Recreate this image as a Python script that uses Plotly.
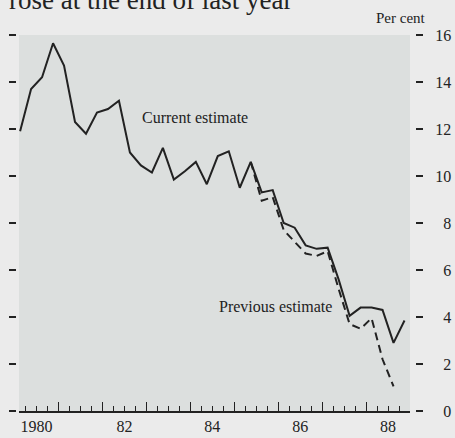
import plotly.graph_objects as go
import pandas as pd

# quarterly data, 1980 Q1 - 1988 Q4
quarters = pd.period_range("1980Q1", "1988Q4", freq="Q")
current = [11.9, 13.7, 14.2, 15.65, 14.7, 12.3, 11.8, 12.7, 12.85, 13.2,
           11.0, 10.45, 10.15, 11.2, 9.85, 10.2, 10.6, 9.65, 10.85, 11.05,
           9.5, 10.6, 9.3, 9.4, 8.0, 7.8, 7.05, 6.9, 6.95, 5.6,
           4.05, 4.4, 4.4, 4.3, 2.9, 3.85]

# previous estimate, 1985 Q2 - 1988 Q3
prev_quarters = pd.period_range("1985Q2", "1988Q3", freq="Q")
previous = [10.6, 8.95, 9.1, 7.7, 7.2, 6.7, 6.6, 6.8, 5.2, 3.7,
            3.5, 3.95, 2.2, 1.05]

year_labels = ["1980", "82", "84", "86", "88"]
label_years = [1980, 1982, 1984, 1986, 1988]
y_ticks = [0, 2, 4, 6, 8, 10, 12, 14, 16]


def to_dec(p):
    # centre of the quarter as a decimal year
    return p.year + (p.quarter - 0.5) / 4


x_cur = [to_dec(p) for p in quarters]
x_prev = [to_dec(p) for p in prev_quarters]

W, H = 455, 438
INK = "#222222"
FONT = "Liberation Serif"

fig = go.Figure()

fig.add_trace(go.Scatter(
    x=x_cur, y=current, mode="lines",
    line=dict(color=INK, width=2),
    xaxis="x", yaxis="y", hoverinfo="skip"
))
fig.add_trace(go.Scatter(
    x=x_prev, y=previous, mode="lines",
    line=dict(color=INK, width=2, dash="8px,5px"),
    xaxis="x2", yaxis="y2", hoverinfo="skip"
))

fig.add_annotation(x=1984.1, y=12.5, text="Current estimate", showarrow=False,
                   font=dict(family=FONT, size=16, color=INK))
fig.add_annotation(x=1985.93, y=4.45, text="Previous estimate", showarrow=False,
                   font=dict(family=FONT, size=16, color=INK))
fig.add_annotation(x=401 / W, y=1.045, xref="paper", yref="paper",
                   xanchor="center", yanchor="middle",
                   text="Per cent", showarrow=False,
                   font=dict(family=FONT, size=15, color=INK))
fig.add_annotation(x=7 / W, y=1.093, xref="paper", yref="paper",
                   xanchor="left", yanchor="middle",
                   text="rose at the end of last year", showarrow=False,
                   font=dict(family=FONT, size=27, color=INK))

x_range = [1980.1, 1989.0]
y_range = [0, 16]

fig.update_layout(
    width=W, height=H,
    margin=dict(l=0, r=0, t=35, b=27),
    paper_bgcolor="#ebebeb",
    plot_bgcolor="#dcdfde",
    showlegend=False,
    font=dict(family=FONT, size=16, color=INK),
    xaxis=dict(
        domain=[19 / W, 410 / W], range=x_range,
        showgrid=False, zeroline=False,
        showline=True, linecolor=INK, linewidth=1.5,
        tickmode="linear", tick0=1980, dtick=1,
        ticks="inside", ticklen=9, tickwidth=1.3, tickcolor=INK,
        showticklabels=False,
        minor=dict(tickmode="linear", tick0=1980, dtick=0.25,
                   ticks="inside", ticklen=5, tickwidth=1.1, tickcolor=INK),
    ),
    xaxis2=dict(
        overlaying="x", matches="x", anchor="y", range=x_range,
        showgrid=False, zeroline=False, showline=False,
        tickmode="array", tickvals=[y + 0.5 for y in label_years],
        ticktext=year_labels, ticks="", ticklabelstandoff=4,
        tickfont=dict(family=FONT, size=16, color=INK),
    ),
    yaxis=dict(
        range=y_range, anchor="free", position=16 / W,
        showgrid=False, zeroline=False, showline=False,
        tickmode="array", tickvals=y_ticks,
        ticks="outside", ticklen=7, tickwidth=2, tickcolor=INK,
        showticklabels=False,
    ),
    yaxis2=dict(
        range=y_range, overlaying="y", matches="y", side="right",
        anchor="free", position=415 / W,
        showgrid=False, zeroline=False, showline=False,
        tickmode="array", tickvals=y_ticks,
        ticktext=[f"{v:\u2007>2}" for v in y_ticks],
        ticks="outside", ticklen=7, tickwidth=2, tickcolor=INK,
        ticklabelstandoff=9,
        tickfont=dict(family=FONT, size=16, color=INK),
    ),
)

# page has a default 8px body margin; drop it so the figure fills the window
fig.write_html("out.html",
               config={"displayModeBar": False},
               post_script="document.body.style.margin='0';"
                           "document.body.style.overflow='hidden';")
